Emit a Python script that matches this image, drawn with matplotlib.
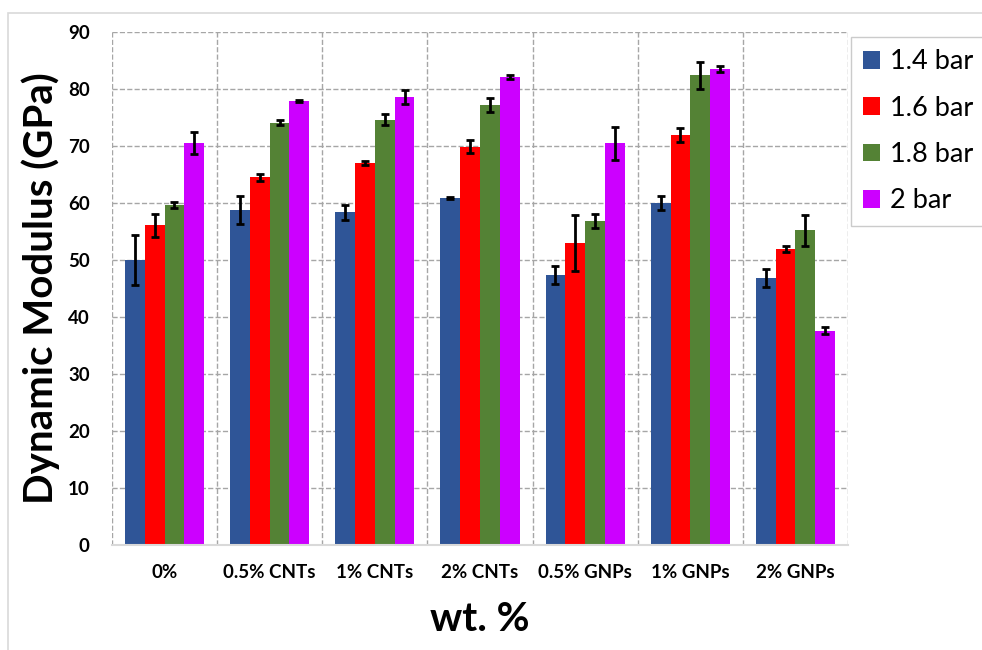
import numpy as np
import matplotlib
matplotlib.use("Agg")
import matplotlib.pyplot as plt
from matplotlib.patches import Rectangle

plt.rcParams['font.family'] = ['Lato', 'DejaVu Sans']

# muestras y presiones
grupos = ['0%', '0.5% CNTs', '1% CNTs', '2% CNTs', '0.5% GNPs', '1% GNPs', '2% GNPs']
series = ['1.4 bar', '1.6 bar', '1.8 bar', '2 bar']

# modulo dinamico (GPa) y desviacion para cada presion
mod_14 = [50.0, 58.8, 58.4, 60.9, 47.4, 60.0, 46.9]
mod_16 = [56.1, 64.5, 67.0, 69.9, 53.0, 71.9, 51.9]
mod_18 = [59.6, 74.1, 74.6, 77.2, 56.8, 82.4, 55.2]
mod_20 = [70.5, 77.9, 78.6, 82.1, 70.5, 83.5, 37.6]

err_14 = [4.3, 2.4, 1.3, 0.2, 1.6, 1.3, 1.6]
err_16 = [2.0, 0.6, 0.3, 1.1, 4.9, 1.2, 0.5]
err_18 = [0.5, 0.4, 1.0, 1.2, 1.2, 2.4, 2.7]
err_20 = [1.9, 0.2, 1.3, 0.4, 2.9, 0.5, 0.6]

colores = ['#2F5597', '#FF0000', '#548235', '#CC00FF']

valores = [mod_14, mod_16, mod_18, mod_20]
errores = [err_14, err_16, err_18, err_20]

fig = plt.figure(figsize=(9.82, 6.5), dpi=100)
# marco gris claro alrededor del grafico
fig.patches.append(Rectangle((8 / 982, -0.1), 1.2, 1 - 13 / 650 + 0.1,
                             transform=fig.transFigure, fill=False,
                             edgecolor='#D9D9D9', lw=1.2))

ax = fig.add_axes([112 / 982, 1 - 545 / 650, (848 - 112) / 982, (545 - 32) / 650])

x = np.arange(len(grupos))
ancho = 0.188
for i in range(4):
    pos = x + (i - 1.5) * ancho
    ax.bar(pos, valores[i], ancho, color=colores[i], label=series[i], zorder=2)
    ax.errorbar(pos, valores[i], yerr=errores[i], fmt='none', ecolor='black',
                elinewidth=2, capsize=3, capthick=2, zorder=3)

ax.set_xlim(-0.5, len(grupos) - 0.5)
ax.set_ylim(0, 90)
ax.set_yticks(np.arange(0, 91, 10))
ax.set_xticks(x)
ax.set_xticklabels(grupos, fontsize=13.5, fontweight='bold')
ax.set_xticks(np.arange(-0.5, len(grupos), 1), minor=True)
for lbl in ax.get_yticklabels():
    lbl.set_fontsize(13.5)
    lbl.set_fontweight('bold')
ax.tick_params(axis='both', which='both', length=0)
ax.tick_params(axis='x', pad=14)
ax.tick_params(axis='y', pad=16)

# rejilla discontinua en ambas direcciones
ax.grid(axis='y', which='major', linestyle='--', color='#A6A6A6', lw=1, zorder=0)
ax.grid(axis='x', which='minor', linestyle='--', color='#A6A6A6', lw=1, zorder=0)
for s in ['left', 'right', 'top']:
    ax.spines[s].set_visible(False)
ax.spines['bottom'].set_color('#D9D9D9')
ax.spines['bottom'].set_linewidth(1.5)

ax.set_ylabel('Dynamic Modulus (GPa)', fontsize=29, fontweight='bold', labelpad=6)
ax.set_xlabel('wt. %', fontsize=29, fontweight='bold', labelpad=14)

ax.legend(loc='upper left', bbox_to_anchor=(851 / 982, 1 - 37 / 650),
          bbox_transform=fig.transFigure, fontsize=19.5, frameon=True,
          fancybox=False, edgecolor='#BFBFBF', handlelength=0.63,
          handleheight=0.63, handletextpad=0.37, labelspacing=0.79,
          borderpad=0.45, borderaxespad=0)

fig.savefig('out.png', dpi=100)
